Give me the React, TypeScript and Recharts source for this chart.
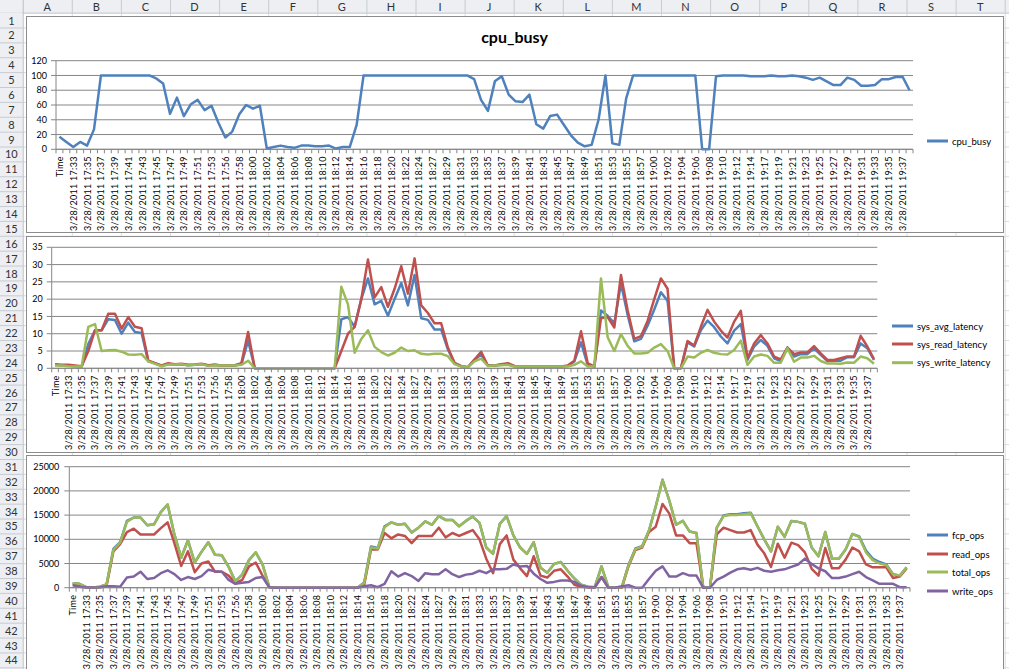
import React from 'react';
import { LineChart, Line, XAxis, YAxis, CartesianGrid } from 'recharts';

// category axis: one sample a minute, the first row is the header text "Time"
const times = [
  'Time', '17:32', '17:33', '17:34', '17:35', '17:36', '17:37', '17:38', '17:39', '17:40',
  '17:41', '17:42', '17:43', '17:44', '17:45', '17:46', '17:47', '17:48', '17:49', '17:50',
  '17:51', '17:52', '17:53', '17:54', '17:56', '17:57', '17:58', '17:59', '18:00', '18:01',
  '18:02', '18:03', '18:04', '18:05', '18:06', '18:07', '18:08', '18:09', '18:10', '18:11',
  '18:12', '18:13', '18:14', '18:15', '18:16', '18:17', '18:18', '18:19', '18:20', '18:21',
  '18:22', '18:23', '18:24', '18:25', '18:27', '18:28', '18:29', '18:30', '18:31', '18:32',
  '18:33', '18:34', '18:35', '18:36', '18:37', '18:38', '18:39', '18:40', '18:41', '18:42',
  '18:43', '18:44', '18:45', '18:46', '18:47', '18:48', '18:49', '18:50', '18:51', '18:52',
  '18:53', '18:54', '18:55', '18:56', '18:57', '18:58', '19:00', '19:01', '19:02', '19:03',
  '19:04', '19:05', '19:06', '19:07', '19:08', '19:09', '19:10', '19:11', '19:12', '19:13',
  '19:14', '19:15', '19:17', '19:18', '19:19', '19:20', '19:21', '19:22', '19:23', '19:24',
  '19:25', '19:26', '19:27', '19:28', '19:29', '19:30', '19:31', '19:32', '19:33', '19:34',
  '19:35', '19:36', '19:37', '19:38',
];
const datePrefix = '3/28/2011';

const cpuBusy = [
  17, 10, 3, 10, 5, 27, 100, 100, 100, 100,
  100, 100, 100, 100, 96, 89, 48, 70, 45, 61,
  67, 53, 59, 36, 16, 24, 47, 60, 55, 59,
  1, 3, 5, 3, 2, 5, 5, 4, 4, 5,
  1, 3, 3, 33, 100, 100, 100, 100, 100, 100,
  100, 100, 100, 100, 100, 100, 100, 100, 100, 100,
  95, 67, 52, 92, 99, 74, 65, 64, 74, 34,
  28, 45, 47, 33, 19, 9, 4, 6, 40, 100,
  8, 6, 69, 100, 100, 100, 100, 100, 100, 100,
  100, 100, 100, 0, 0, 99, 100, 100, 100, 100,
  99, 99, 99, 100, 99, 99, 100, 99, 97, 94,
  97, 92, 87, 87, 97, 94, 86, 86, 87, 95,
  95, 98, 98, 80,
];

const sysAvgLatency = [
  1, 0.8, 0.8, 0.6, 0.5, 7, 11, 11, 14.2, 14,
  10, 13.2, 10.5, 10.2, 2, 1.5, 0.7, 1.2, 1.1, 1.2,
  0.9, 1, 1.2, 0.8, 1, 0.8, 0.8, 0.8, 1.2, 8,
  0, 0, 0, 0, 0, 0, 0, 0, 0, 0,
  0, 0, 0, 14.2, 14.8, 12, 20, 26, 18.5, 19.5,
  15.2, 20, 24.7, 18.2, 27, 14.5, 14, 11.2, 11.2, 5.5,
  1.5, 0.6, 0.3, 2.5, 4, 0.8, 0.8, 1, 1.2, 0.6,
  0.5, 0.5, 0.5, 0.5, 0.5, 0.5, 0.5, 0.7, 2, 7.5,
  1, 0.5, 16.7, 15.2, 13, 24.5, 15.5, 7.8, 8.5, 12.3,
  17, 22, 19.5, 0, 0, 7.5, 6.3, 11, 13.8, 11.9,
  9.2, 7.2, 10.9, 12.8, 2.4, 6.3, 8.2, 6.5, 2.9, 2.1,
  6, 3.4, 4.1, 4.1, 5.8, 3.9, 2.1, 2.2, 2.2, 3.2,
  3.2, 7.2, 5.8, 2.4,
];

const sysReadLatency = [
  1.2, 1, 1, 0.8, 0.6, 5, 11, 11, 15.8, 15.8,
  11.5, 14.8, 12, 11.6, 2.3, 1.5, 0.8, 1.5, 1.2, 1.3,
  1, 1.1, 1.3, 0.9, 1, 0.8, 0.8, 0.9, 1.5, 10.5,
  0, 0, 0, 0, 0, 0, 0, 0, 0, 0,
  0, 0, 0, 5, 10, 12, 20, 31.5, 20.5, 23.5,
  17.8, 23, 29.5, 21.6, 31.8, 18.2, 16, 13, 13, 6,
  1.6, 0.6, 0.3, 2.5, 4.8, 0.8, 0.8, 1.2, 1.5, 0.7,
  0.5, 0.5, 0.5, 0.5, 0.5, 0.5, 0.5, 0.8, 2.2, 10.7,
  1.5, 0.5, 14.5, 14.8, 11.8, 27, 16.8, 8.5, 9.3, 13.7,
  20, 26, 23, 0, 0, 7.9, 6.6, 12, 16.9, 13.5,
  10.9, 8.9, 13.5, 16.6, 2.9, 7.2, 9.6, 7.2, 3.4, 2.6,
  6, 4.1, 4.6, 4.6, 6.4, 4.3, 2.4, 2.4, 2.9, 3.4,
  3.4, 9.4, 6.3, 2.7,
];

const sysWriteLatency = [
  0.8, 0.8, 0.6, 0.5, 0.5, 12, 12.8, 5, 5.2, 5.3,
  4.8, 4, 3.9, 4.1, 2, 1.3, 0.6, 1.1, 1.1, 1.2,
  0.8, 1, 1.2, 0.7, 0.9, 0.8, 0.8, 0.8, 1, 2.2,
  0, 0, 0, 0, 0, 0, 0, 0, 0, 0,
  0, 0, 0, 23.6, 18.5, 4.5, 8.5, 11, 6.2, 4.7,
  3.7, 4.5, 6, 5, 5.2, 4.2, 4, 4.2, 4.2, 3.5,
  1.2, 0.5, 0.3, 2, 2.8, 0.7, 0.8, 0.9, 1, 0.5,
  0.5, 0.5, 0.5, 0.5, 0.5, 0.5, 0.5, 0.5, 1, 2,
  0.5, 0.5, 26, 9, 5, 9.9, 6.5, 4.3, 4.3, 4.5,
  6, 7, 5, 0, 0, 3.4, 3.1, 4.5, 5.3, 4.5,
  4.1, 4, 5.3, 8, 1, 3.4, 4, 3.6, 1.6, 1.6,
  5.8, 1.9, 3.1, 3.1, 3.6, 2.1, 1.4, 1.4, 1.3, 1.7,
  1.6, 3.4, 2.9, 1.3,
];

const fcpOps = [
  900, 800, 100, 50, 200, 700, 8000, 9400, 13800, 14500,
  14500, 12900, 13100, 15600, 17200, 11000, 6200, 9800, 5200, 7400,
  9400, 6800, 6700, 4300, 1300, 2700, 5700, 7300, 4800, 100,
  0, 0, 0, 0, 0, 0, 0, 0, 0, 0,
  0, 0, 0, 1100, 8500, 8200, 12700, 13500, 13000, 13200,
  11400, 12400, 13700, 13000, 14800, 14000, 14000, 12700, 13800, 14700,
  13400, 8300, 7000, 13200, 14800, 10800, 8300, 7000, 9400, 4100,
  3100, 4900, 5300, 3500, 1900, 600, 200, 100, 4400, 100,
  0, 100, 4800, 8100, 8600, 11800, 16800, 22300, 18000, 13000,
  13800, 11600, 11300, 0, 0, 12400, 14900, 15200, 15200, 15400,
  15500, 12700, 10000, 7500, 12600, 10500, 13800, 13600, 13200, 8300,
  6500, 11500, 6000, 6000, 7900, 11100, 10600, 7700, 6000, 5300,
  4800, 2800, 2500, 4200,
];

const readOps = [
  700, 500, 100, 50, 100, 400, 7500, 9000, 11500, 12200,
  11000, 11000, 11000, 12300, 13500, 9200, 4500, 7500, 3200, 5000,
  5400, 3300, 3300, 2500, 900, 1600, 4400, 5200, 2500, 100,
  0, 0, 0, 0, 0, 0, 0, 0, 0, 0,
  0, 0, 0, 600, 7900, 7900, 11300, 10200, 11000, 10700,
  9200, 10700, 10700, 10700, 12400, 10400, 11300, 10700, 11300, 11900,
  10000, 6000, 3000, 9000, 10800, 5800, 4000, 2400, 6500, 2500,
  2100, 3500, 3800, 2300, 600, 200, 100, 0, 2200, 50,
  0, 0, 4500, 7800, 8300, 11500, 12600, 17300, 15300, 10800,
  10800, 9200, 9200, 0, 0, 11000, 12400, 11900, 11400, 11400,
  11900, 8900, 7100, 4300, 9100, 6200, 9300, 8800, 7300, 3900,
  2500, 8200, 4000, 4000, 5800, 8300, 7500, 4800, 4200, 4200,
  4200, 2000, 2300, 4000,
];

const totalOps = [
  900, 800, 100, 50, 200, 700, 7800, 9300, 13600, 14500,
  14500, 12900, 13100, 15600, 17200, 11000, 6200, 9800, 5200, 7400,
  9400, 6800, 6700, 4300, 1300, 2700, 5700, 7300, 4800, 100,
  0, 0, 0, 0, 0, 0, 0, 0, 0, 0,
  0, 0, 0, 1000, 8300, 8100, 12500, 13500, 13000, 13200,
  11400, 12400, 13700, 13000, 14800, 14000, 14000, 12700, 13800, 14700,
  13400, 8300, 7000, 13200, 14800, 10800, 8300, 7000, 9400, 4100,
  3100, 4900, 5300, 3500, 1900, 600, 200, 100, 4400, 100,
  0, 100, 4700, 8000, 8500, 11800, 16800, 22300, 18000, 13000,
  13800, 11600, 11300, 0, 0, 12400, 14800, 15000, 15000, 15200,
  15400, 12700, 10000, 7500, 12600, 10500, 13800, 13600, 13200, 8300,
  6500, 11500, 6000, 6000, 7900, 11100, 10500, 7300, 5700, 5000,
  4700, 2800, 2500, 4200,
];

const writeOps = [
  500, 200, 50, 50, 100, 300, 300, 200, 2100, 2300,
  3300, 1800, 2000, 3000, 3600, 2800, 1600, 2200, 1800, 2400,
  3700, 3400, 3300, 1600, 800, 1000, 1200, 2000, 2200, 100,
  0, 0, 0, 0, 0, 0, 0, 0, 0, 0,
  0, 0, 0, 300, 500, 100, 800, 3400, 2300, 3000,
  2400, 1400, 3000, 2800, 2800, 3800, 2800, 2200, 2700, 2900,
  3500, 3000, 3800, 3800, 3900, 4800, 4400, 4500, 2900, 1800,
  1000, 1200, 1500, 1500, 1200, 400, 100, 100, 2200, 50,
  0, 300, 500, 0, 0, 1800, 3500, 4400, 2300, 2300,
  3000, 2500, 2500, 0, 0, 1600, 2300, 3100, 3800, 4000,
  3700, 4100, 3500, 3300, 3600, 3800, 4300, 4800, 6000, 4900,
  4000, 3400, 2000, 2000, 2300, 2800, 3300, 2200, 1500, 800,
  800, 800, 100, 100,
];

const cpuTicks = [0, 20, 40, 60, 80, 100, 120];
const latencyTicks = [0, 5, 10, 15, 20, 25, 30, 35];
const opsTicks = [0, 5000, 10000, 15000, 20000, 25000];

const columnLetters = ['A', 'B', 'C', 'D', 'E', 'F', 'G', 'H', 'I', 'J', 'K', 'L', 'M', 'N', 'O', 'P', 'Q', 'R', 'S', 'T'];

const AXIS = '#868686';
const FONT = 'Lato, "Open Sans", sans-serif';

const rows = times.map((t, i) => ({
  idx: i,
  time: t,
  cpu_busy: cpuBusy[i],
  sys_avg_latency: sysAvgLatency[i],
  sys_read_latency: sysReadLatency[i],
  sys_write_latency: sysWriteLatency[i],
  fcp_ops: fcpOps[i],
  read_ops: readOps[i],
  total_ops: totalOps[i],
  write_ops: writeOps[i],
}));
const idxTicks = times.map((_, i) => i);

type Series = { key: string; color: string };

const cpuSeries: Series[] = [{ key: 'cpu_busy', color: '#4F81BD' }];
const latencySeries: Series[] = [
  { key: 'sys_avg_latency', color: '#4F81BD' },
  { key: 'sys_read_latency', color: '#C0504D' },
  { key: 'sys_write_latency', color: '#9BBB59' },
];
const opsSeries: Series[] = [
  { key: 'fcp_ops', color: '#4F81BD' },
  { key: 'read_ops', color: '#C0504D' },
  { key: 'total_ops', color: '#9BBB59' },
  { key: 'write_ops', color: '#8064A2' },
];

const tickLabel = (t: string) => (t === 'Time' ? t : `${datePrefix} ${t}`);

// excel puts the tick marks between categories and labels every other one
const makeTick = (half: number) => (props: any) => {
  const { x, y, payload } = props;
  const i = payload.value as number;
  const ty = y + 7;
  return (
    <g>
      <line x1={x - half} x2={x - half} y1={y} y2={y + 4} stroke={AXIS} />
      {i === times.length - 1 && <line x1={x + half} x2={x + half} y1={y} y2={y + 4} stroke={AXIS} />}
      {i % 2 === 0 && (
        <text
          x={x}
          y={ty}
          transform={`rotate(-90 ${x} ${ty})`}
          textAnchor="end"
          dominantBaseline="central"
          fontSize={9}
          letterSpacing={0.3}
          fontFamily={FONT}
          fill="#000"
        >
          {tickLabel(times[i])}
        </text>
      )}
    </g>
  );
};

interface PanelProps {
  left: number;
  top: number;
  width: number;
  height: number;
  plot: { left: number; top: number; right: number; bottom: number };
  yTicks: number[];
  yGap: number;
  series: Series[];
  title?: string;
  legend: { x1: number; x2: number; tx: number; ys: number[] };
}

function Panel({ left, top, width, height, plot, yTicks, yGap, series, title, legend }: PanelProps) {
  const plotWidth = width - plot.left - plot.right;
  const half = plotWidth / times.length / 2;
  return (
    <div style={{ position: 'absolute', left, top, width, height }}>
      {title && (
        <div
          style={{
            position: 'absolute', left: 0, top: 11, width, textAlign: 'center',
            fontFamily: FONT, fontWeight: 700, fontSize: 16, lineHeight: '20px', color: '#000',
          }}
        >
          {title}
        </div>
      )}
      <LineChart width={width} height={height} data={rows} margin={{ top: plot.top, right: plot.right, left: 0, bottom: 0 }}>
        <CartesianGrid horizontal vertical={false} stroke={AXIS} />
        <XAxis
          type="number"
          dataKey="idx"
          domain={[-0.5, times.length - 0.5]}
          ticks={idxTicks}
          interval={0}
          height={plot.bottom}
          tickSize={0}
          tickMargin={0}
          tickLine={false}
          axisLine={{ stroke: AXIS }}
          tick={makeTick(half)}
        />
        <YAxis
          domain={[yTicks[0], yTicks[yTicks.length - 1]]}
          ticks={yTicks}
          interval={0}
          width={plot.left}
          tickSize={5}
          tickMargin={yGap}
          stroke={AXIS}
          tick={{ fontSize: 9, fill: '#000', fontFamily: FONT }}
        />
        {series.map((s) => (
          <Line
            key={s.key}
            dataKey={s.key}
            type="linear"
            stroke={s.color}
            strokeWidth={2.5}
            strokeLinejoin="round"
            dot={false}
            activeDot={false}
            isAnimationActive={false}
          />
        ))}
      </LineChart>
      <svg width={width} height={height} style={{ position: 'absolute', left: 0, top: 0, pointerEvents: 'none' }}>
        {series.map((s, i) => (
          <g key={s.key}>
            <line x1={legend.x1} x2={legend.x2} y1={legend.ys[i]} y2={legend.ys[i]} stroke={s.color} strokeWidth={3} />
            <text x={legend.tx} y={legend.ys[i]} dominantBaseline="central" fontSize={9.5} fontFamily={FONT} fill="#000">
              {s.key}
            </text>
          </g>
        ))}
      </svg>
    </div>
  );
}

// the worksheet behind the charts
function Sheet() {
  const colX0 = 22.7;
  const colW = 49.1;
  const rowY0 = 12.6;
  const rowH = 14.88;
  const rowNums = Array.from({ length: 44 }, (_, i) => i + 1);
  return (
    <svg width={1009} height={669} style={{ position: 'absolute', left: 0, top: 0 }}>
      <rect x={0} y={0} width={1009} height={669} fill="#fff" />
      {rowNums.map((n) => (
        <line key={`h${n}`} x1={colX0} x2={1009} y1={rowY0 + n * rowH + 0.5} y2={rowY0 + n * rowH + 0.5} stroke="#DADCDF" />
      ))}
      {columnLetters.map((c, i) => (
        <line key={`v${c}`} x1={colX0 + (i + 1) * colW + 0.5} x2={colX0 + (i + 1) * colW + 0.5} y1={rowY0} y2={669} stroke="#DADCDF" />
      ))}
      <rect x={0} y={0} width={1009} height={rowY0} fill="#EDEFF2" />
      <line x1={0} x2={1009} y1={rowY0 + 0.5} y2={rowY0 + 0.5} stroke="#B9C0C8" />
      {columnLetters.map((c, i) => (
        <g key={c}>
          <line x1={colX0 + (i + 1) * colW + 0.5} x2={colX0 + (i + 1) * colW + 0.5} y1={0} y2={rowY0} stroke="#C6CCD3" />
          <text x={colX0 + (i + 0.5) * colW} y={rowY0 / 2} textAnchor="middle" dominantBaseline="central" fontSize={11} fontFamily={FONT} fill="#333">
            {c}
          </text>
        </g>
      ))}
      <rect x={0} y={rowY0} width={colX0} height={669 - rowY0} fill="#EDEFF2" />
      <line x1={colX0 + 0.5} x2={colX0 + 0.5} y1={0} y2={669} stroke="#B9C0C8" />
      {rowNums.map((n) => (
        <g key={n}>
          <line x1={0} x2={colX0} y1={rowY0 + n * rowH + 0.5} y2={rowY0 + n * rowH + 0.5} stroke="#C6CCD3" />
          <text x={colX0 / 2} y={rowY0 + (n - 0.5) * rowH} textAnchor="middle" dominantBaseline="central" fontSize={11} fontFamily={FONT} fill="#333">
            {n}
          </text>
        </g>
      ))}
      <rect x={26.5} y={16.5} width={977} height={216} fill="#fff" stroke="#8C8C8C" />
      <rect x={26.5} y={236.5} width={977} height={216} fill="#fff" stroke="#8C8C8C" />
      <rect x={26.5} y={455.5} width={977} height={216} fill="#fff" stroke="#8C8C8C" />
    </svg>
  );
}

export default function App() {
  return (
    <div style={{ position: 'fixed', left: 0, top: 0, width: 1009, height: 669, overflow: 'hidden', background: '#fff' }}>
      <Sheet />
      <Panel
        left={26}
        top={16}
        width={977}
        height={216}
        plot={{ left: 30, top: 44.7, right: 90, bottom: 82.7 }}
        yTicks={cpuTicks}
        yGap={4}
        series={cpuSeries}
        title="cpu_busy"
        legend={{ x1: 901, x2: 922, tx: 926, ys: [125] }}
      />
      <Panel
        left={26}
        top={236}
        width={977}
        height={216}
        plot={{ left: 25.7, top: 11.3, right: 125.7, bottom: 83.7 }}
        yTicks={latencyTicks}
        yGap={4}
        series={latencySeries}
        legend={{ x1: 866, x2: 887, tx: 891, ys: [90, 108, 126.7] }}
      />
      <Panel
        left={26}
        top={455}
        width={977}
        height={216}
        plot={{ left: 43.3, top: 11.7, right: 93, bottom: 83.3 }}
        yTicks={opsTicks}
        yGap={5}
        series={opsSeries}
        legend={{ x1: 901, x2: 922, tx: 926, ys: [80, 99, 117, 136] }}
      />
    </div>
  );
}
